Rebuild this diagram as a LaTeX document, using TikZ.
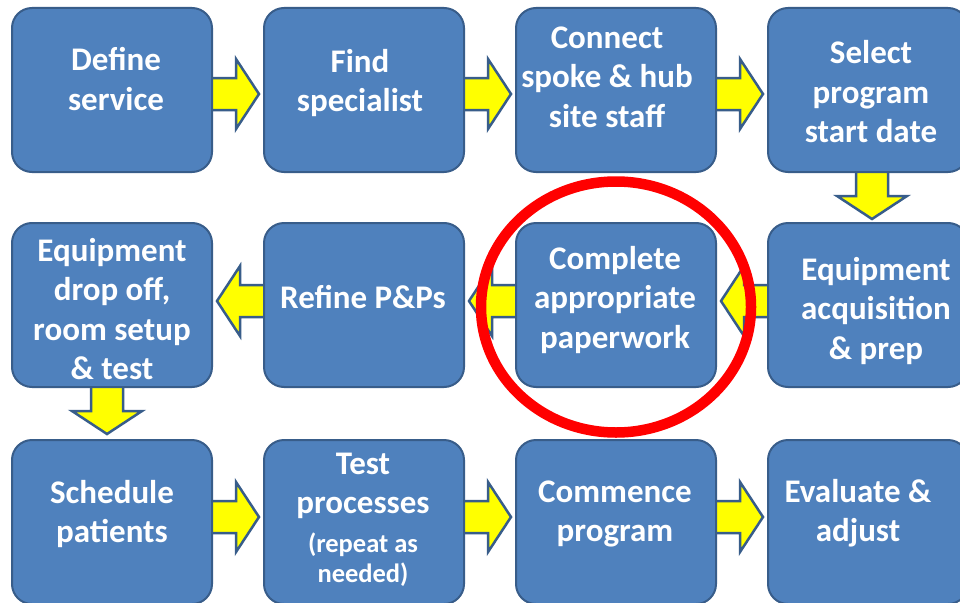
\documentclass[tikz,border=0pt]{standalone}
\usepackage{fontspec}
\setmainfont{Carlito}
\usetikzlibrary{calc}
\definecolor{boxblue}{HTML}{4F81BD}
\definecolor{boxedge}{HTML}{385D8A}
\definecolor{arrowyellow}{HTML}{FFFF00}
\definecolor{ringred}{HTML}{FF0000}
\tikzset{
  stepbox/.style={draw=boxedge, line width=2pt, fill=boxblue, rounded corners=20pt,
    minimum width=200pt, minimum height=164pt, inner sep=0pt},
  steptext/.style={text=white, font=\bfseries\fontsize{33}{39.5}\selectfont,
    align=center, inner sep=0pt},
  notetext/.style={text=white, font=\bfseries\fontsize{26.5}{30}\selectfont,
    align=center, inner sep=0pt},
  blockarrow/.style={draw=boxedge, line width=2.5pt, fill=arrowyellow, line join=miter},
  pics/flowarrow/.style={code={
    \draw[blockarrow] (0,-16) -- (26,-16) -- (26,-35) -- (49,0) -- (26,35)
      -- (26,16) -- (0,16) -- cycle;}}
}
\begin{document}
\begin{tikzpicture}[x=1pt,y=-1pt]
\useasboundingbox (0,0) rectangle (960,602);
\clip (0,0) rectangle (960,602);
\fill[white] (0,0) rectangle (960,602);

% step boxes, three rows of four (positions only)
\coordinate (p1) at (112,90);   \coordinate (p2) at (364,90);
\coordinate (p3) at (616,90);   \coordinate (p4) at (868,90);
\coordinate (p5) at (112,305);  \coordinate (p6) at (364,305);
\coordinate (p7) at (616,305);  \coordinate (p8) at (868,305);
\coordinate (p9) at (112,522);  \coordinate (p10) at (364,522);
\coordinate (p11) at (616,522); \coordinate (p12) at (868,522);

% invisible anchors for the arrows
\foreach \i in {1,...,12} {
  \node[stepbox, draw=none, fill=none] (b\i) at (p\i) {};
}

% yellow block arrows between the steps
\pic at ($(b1.east)+(-3,4)$) {flowarrow};
\pic at ($(b2.east)+(-3,4)$) {flowarrow};
\pic at ($(b3.east)+(-3,4)$) {flowarrow};
\pic[rotate=-90] at ($(b4.south)+(4,-3)$) {flowarrow};
\pic[rotate=180] at ($(b8.west)+(3,-4)$) {flowarrow};
\pic[rotate=180] at ($(b7.west)+(3,-4)$) {flowarrow};
\pic[rotate=180] at ($(b6.west)+(3,-4)$) {flowarrow};
\pic[rotate=-90] at ($(b5.south)+(-5,-3)$) {flowarrow};
\pic at ($(b9.east)+(-3,-5)$) {flowarrow};
\pic at ($(b10.east)+(-3,-5)$) {flowarrow};
\pic at ($(b11.east)+(-3,-5)$) {flowarrow};

% boxes on top of the arrow tails
\foreach \i in {1,...,12} {
  \node[stepbox] (box\i) at (p\i) {};
}

% step labels
\node[steptext] (t1) at (116,79) {Define\\service};
\node[steptext] (t2) at (360,83) {Find\\specialist};
\node[steptext] (t3) at (607,77) {Connect\\spoke \& hub\\site staff};
\node[steptext] (t4) at (871,92) {Select\\program\\start date};
\node[steptext] (t5) at (112,309) {Equipment\\drop off,\\room setup\\\& test};
\node[steptext] (t6) at (363,297) {Refine P\&Ps};
\node[steptext] (t7) at (615,300) {Complete\\appropriate\\paperwork};
\node[steptext] (t8) at (876,311) {Equipment\\acquisition\\\& prep};
\node[steptext] (t9) at (112,514) {Schedule\\patients};
\node[steptext] (t10) at (363,486) {Test\\processes};
\node[notetext] (t10n) at (363,560) {(repeat as\\needed)};
\node[steptext] (t11) at (615,514) {Commence\\program};
\node[steptext] (t12) at (858,513) {Evaluate \&\\adjust};

% red ring around the paperwork step
\draw[ringred, line width=10.5pt] (box7.center) ++(0,2) ellipse [x radius=135, y radius=125.5];
\end{tikzpicture}
\end{document}
